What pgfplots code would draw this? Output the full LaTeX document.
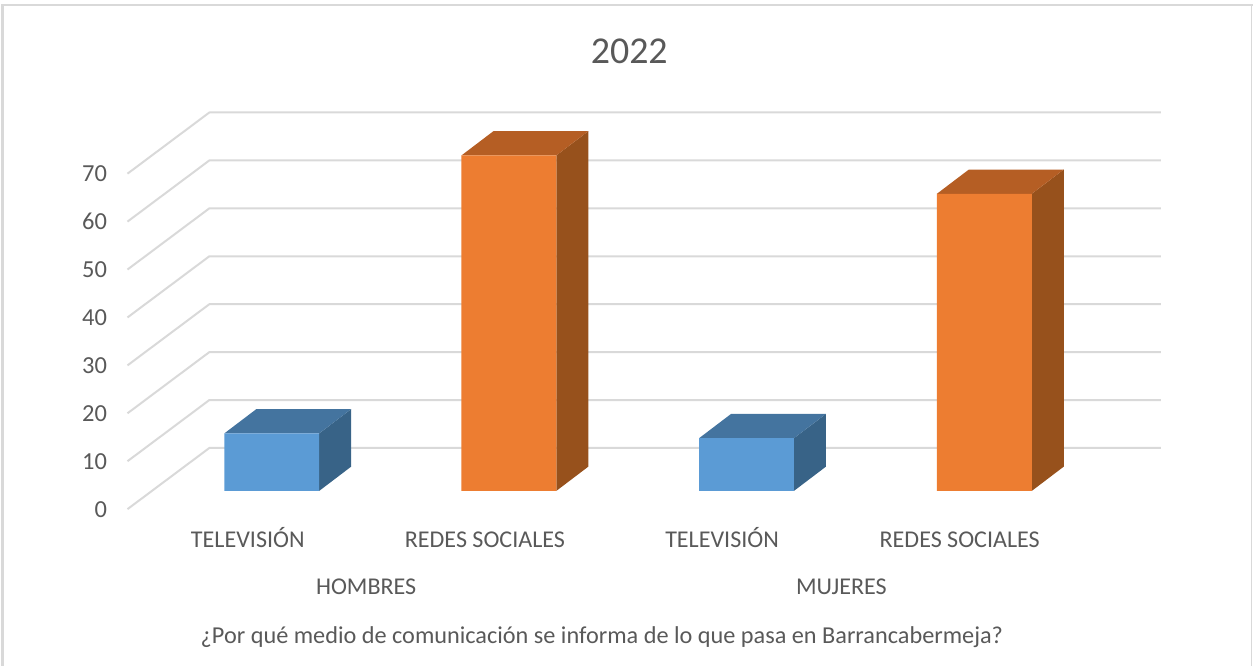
\documentclass[border=0pt]{standalone}
\usepackage{fontspec}
\setmainfont{Carlito}
\usepackage{pgfplots}
\pgfplotsset{compat=1.18}
\definecolor{txt}{HTML}{595959}
\definecolor{gridc}{HTML}{D9D9D9}
\definecolor{frame}{HTML}{D9D9D9}
\definecolor{bfront}{HTML}{5B9BD5}
\definecolor{btop}{HTML}{44749F}
\definecolor{bside}{HTML}{386387}
\definecolor{ofront}{HTML}{ED7D31}
\definecolor{otop}{HTML}{B55E24}
\definecolor{oside}{HTML}{97511C}
\begin{document}
\begin{tikzpicture}[x=1pt,y=1pt]
\begin{axis}[
  scale only axis, width=1034pt, height=336pt,
  xmin=127, xmax=1161, ymin=0, ymax=70,
  clip=false,
  axis line style={draw=none},
  major tick length=0pt,
  tick style={draw=none},
  ytick={0,10,20,30,40,50,60,70},
  xtick={271.5,509,746.5,984.5},
  xticklabels={TELEVISIÓN,REDES SOCIALES,TELEVISIÓN,REDES SOCIALES},
  yticklabel style={font=\fontsize{24.5}{26}\selectfont,text=txt,yshift=-18.5pt,xshift=-17pt},
  xticklabel style={font=\fontsize{24.1}{26}\selectfont,text=txt,anchor=base,xshift=-24pt,yshift=-57pt},
  /pgf/number format/assume math mode=true,
  title={2022},
  title style={font=\fontsize{38}{42}\selectfont,text=txt,at={(0.486,1)},anchor=center,yshift=98pt},
  xlabel={¿Por qué medio de comunicación se informa de lo que pasa en Barrancabermeja?},
  xlabel style={font=\fontsize{24.3}{26}\selectfont,text=txt,at={(0.4595,0)},anchor=center,yshift=-146.5pt},
]
% back wall and side wall grid lines
\pgfplotsinvokeforeach{0,10,...,70}{
  \addplot[gridc,line width=2pt,forget plot,line join=round] coordinates {(127,#1-3.81) (209,#1+8.96) (1162,#1+8.96)};
}
% side and top faces
\addplot[fill=bside,draw=none,forget plot] coordinates {(319,0) (351,5.06) (351,17.06) (319,12)} --cycle;
\addplot[fill=btop,draw=none,forget plot] coordinates {(224,12) (319,12) (351,17.06) (256,17.06)} --cycle;
\addplot[fill=oside,draw=none,forget plot] coordinates {(556.5,0) (588.5,5.06) (588.5,75.06) (556.5,70)} --cycle;
\addplot[fill=otop,draw=none,forget plot] coordinates {(461.5,70) (556.5,70) (588.5,75.06) (493.5,75.06)} --cycle;
\addplot[fill=bside,draw=none,forget plot] coordinates {(794.5,0) (826.5,5.06) (826.5,16.06) (794.5,11)} --cycle;
\addplot[fill=btop,draw=none,forget plot] coordinates {(699.5,11) (794.5,11) (826.5,16.06) (731.5,16.06)} --cycle;
\addplot[fill=oside,draw=none,forget plot] coordinates {(1032.7,0) (1064.7,5.06) (1064.7,67.06) (1032.7,62)} --cycle;
\addplot[fill=otop,draw=none,forget plot] coordinates {(937.7,62) (1032.7,62) (1064.7,67.06) (969.7,67.06)} --cycle;
% front faces
\addplot[ybar,bar width=95pt,bar shift=0pt,fill=bfront,draw=none] coordinates {(271.5,12) (747,11)};
\addplot[ybar,bar width=95pt,bar shift=0pt,fill=ofront,draw=none] coordinates {(509,70) (985.2,62)};
% group labels
\node[font=\fontsize{24.1}{26}\selectfont,text=txt] at (axis cs:366,-20.1) {HOMBRES};
\node[font=\fontsize{24.1}{26}\selectfont,text=txt] at (axis cs:842,-20.1) {MUJERES};
% chart frame and page extent
\draw[frame,line width=2.5pt] (axis cs:1.8,-36.46) -- (axis cs:1.8,101.4) -- (axis cs:1254,101.4);
\draw[frame,line width=1.2pt] (axis cs:1252.7,-36.46) -- (axis cs:1252.7,101.4);
\path[use as bounding box] (axis cs:-0.7,-36.26) rectangle (axis cs:1253.3,102.43);
\end{axis}
\end{tikzpicture}
\end{document}
